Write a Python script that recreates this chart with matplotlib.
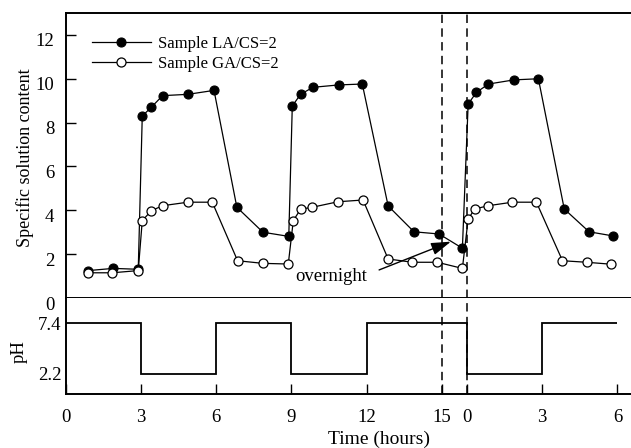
import matplotlib
matplotlib.use("Agg")
import matplotlib.pyplot as plt
import matplotlib.transforms as mtransforms

plt.rcParams['font.family'] = ['Liberation Serif', 'DejaVu Serif']

# elapsed time on the plotting axis (second day starts at 16 after the overnight break)
DAY2 = 16
la_time = [0.9, 1.9, 2.9, 3.06, 3.42, 3.87, 4.88, 5.92, 6.83, 7.87, 8.9,
           9.04, 9.37, 9.86, 10.9, 11.83, 12.86, 13.89, 14.89, 15.82,
           16.05, 16.38, 16.86, 17.88, 18.85, 19.88, 20.87, 21.83]
la_value = [1.25, 1.35, 1.31, 8.3, 8.7, 9.23, 9.29, 9.47, 4.14, 3.0, 2.81,
            8.76, 9.29, 9.61, 9.72, 9.76, 4.2, 3.02, 2.92, 2.27,
            8.85, 9.38, 9.76, 9.95, 10.0, 4.06, 3.02, 2.83]

ga_time = [0.9, 1.86, 2.9, 3.06, 3.42, 3.87, 4.88, 5.85, 6.86, 7.87, 8.88,
           9.08, 9.37, 9.84, 10.86, 11.86, 12.86, 13.83, 14.82, 15.82,
           16.05, 16.31, 16.85, 17.81, 18.77, 19.81, 20.77, 21.76]
ga_value = [1.15, 1.15, 1.25, 3.53, 3.98, 4.21, 4.37, 4.37, 1.70, 1.58, 1.55,
            3.53, 4.05, 4.14, 4.39, 4.47, 1.78, 1.63, 1.63, 1.35,
            3.6, 4.06, 4.21, 4.37, 4.37, 1.70, 1.63, 1.54]

# pH schedule: edges in hours, value held between edges
ph_edges = [0, 3, 6, 9, 12, DAY2, DAY2 + 3, DAY2 + 6]
ph_values = [7.4, 2.2, 7.4, 2.2, 7.4, 2.2, 7.4]

xtick_pos = [0, 3, 6, 9, 12, 15, DAY2, DAY2 + 3, DAY2 + 6]
xtick_lab = ['0', '3', '6', '9', '12', '15', '0', '3', '6']
breaks = [15, DAY2]

W, H = 631, 448
fig = plt.figure(figsize=(W / 100, H / 100), dpi=100)
left = 65.5 / W
width = (692.7 - 65.5) / W
ax = fig.add_axes([left, 1 - 298 / H, width, (298 - 13) / H])
axp = fig.add_axes([left, 1 - 394 / H, width, (394 - 298) / H], sharex=ax)

for a in (ax, axp):
    for s in a.spines.values():
        s.set_linewidth(1.4)
    a.spines['right'].set_visible(False)

ms = 6.5
ax.plot(la_time, la_value, '-o', color='black', lw=0.9, ms=ms,
        mfc='black', mec='black', mew=0.8, label='Sample LA/CS=2', zorder=3)
ax.plot(ga_time, ga_value, '-o', color='black', lw=0.9, ms=ms,
        mfc='white', mec='black', mew=0.9, label='Sample GA/CS=2', zorder=3)

ax.set_xlim(0, 25)
ax.set_ylim(0, 13)
ax.set_yticks(range(0, 13, 2))
ax.tick_params(axis='y', direction='in', length=7.5, width=1.0, pad=8,
               labelsize=13.5)
ax.tick_params(axis='x', bottom=False, labelbottom=False)
shift = mtransforms.ScaledTranslation(0, -3.6 / 72, fig.dpi_scale_trans)
for lab in ax.get_yticklabels():
    lab.set_transform(lab.get_transform() + shift)

leg = ax.legend(loc='upper left', bbox_to_anchor=(0.042, 0.921), frameon=False,
                fontsize=12, handlelength=3.55, handletextpad=0.42,
                labelspacing=0.25, borderpad=0, borderaxespad=0, numpoints=1)

ax.annotate('', xy=(15.36, 2.57), xytext=(12.5, 1.28),
            arrowprops=dict(arrowstyle='-|>,head_length=1.2,head_width=0.38',
                            color='black', lw=1.0, mutation_scale=10,
                            shrinkA=0, shrinkB=0))
ax.text(10.6, 0.97, 'overnight', fontsize=13.5, ha='center', va='center')

axp.stairs(ph_values, ph_edges, baseline=None, color='black', lw=1.3)
axp.set_ylim(0.1, 10)
axp.set_yticks([2.2, 7.4])
axp.set_yticklabels(['2.2', '7.4'])
axp.spines['top'].set_visible(False)
axp.tick_params(axis='y', length=0, pad=3, labelsize=13.5)
axp.set_xticks(xtick_pos)
axp.set_xticklabels(xtick_lab)
axp.tick_params(axis='x', direction='in', length=7, width=1.0, pad=11,
                labelsize=13.5)
axp.set_xlabel('Time (hours)', fontsize=14, labelpad=3)

for a in (ax, axp):
    for b in breaks:
        a.axvline(b, color='black', lw=1.1, dashes=(5.5, 3.5))

fig.text(25 / W, 1 - 158 / H, 'Specific solution content', rotation=90,
         ha='center', va='center', fontsize=13)
fig.text(19.5 / W, 1 - 351.5 / H, 'pH', rotation=90,
         ha='center', va='center', fontsize=13.5)

fig.savefig('out.png', dpi=100)
